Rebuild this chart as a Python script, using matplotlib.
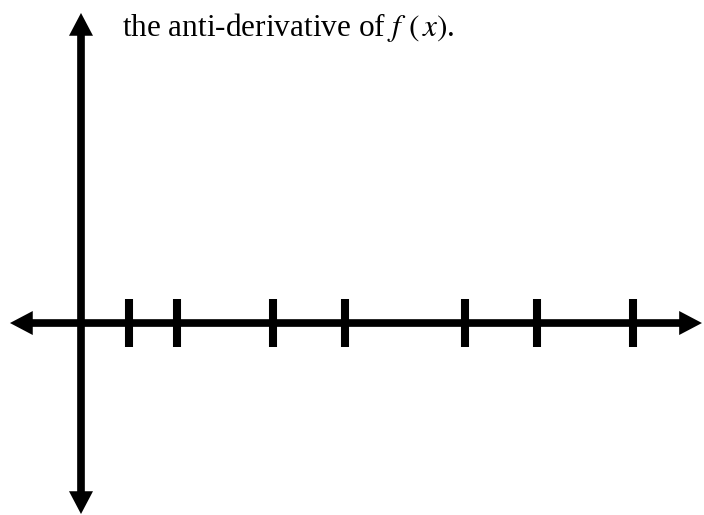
import matplotlib.pyplot as plt

# positions of the marks along the x axis (1 unit = 24 px)
tick_x = [2, 4, 8, 11, 16, 19, 23]
caption = r"the anti-derivative of $f\ (\,x)$."

x_min, x_max = -3.375, 25.96
y_min, y_max = -8.0, 13.46

plt.rcParams["font.family"] = "Liberation Serif"
plt.rcParams["mathtext.fontset"] = "stix"

fig = plt.figure(figsize=(7.04, 5.15), dpi=100)
ax = fig.add_axes([0, 0, 1, 1])
ax.set_xlim(x_min, x_max)
ax.set_ylim(y_min, y_max)
ax.axis("off")

arrow_kw = dict(width=0.32, head_width=1.0, head_length=0.95,
                length_includes_head=True, color="black", lw=0)
# horizontal axis, both directions
ax.arrow(0, 0, 25.875, 0, **arrow_kw)
ax.arrow(0, 0, -2.96, 0, **arrow_kw)
# vertical axis, both directions
ax.arrow(0, 0, 0, 12.92, **arrow_kw)
ax.arrow(0, 0, 0, -7.96, **arrow_kw)

ax.vlines(tick_x, -1, 1, colors="black", linewidth=5.8, capstyle="butt")

ax.text(1.71, 11.96, caption, fontsize=22.5, va="baseline", ha="left")

fig.savefig("out.png", dpi=100)
